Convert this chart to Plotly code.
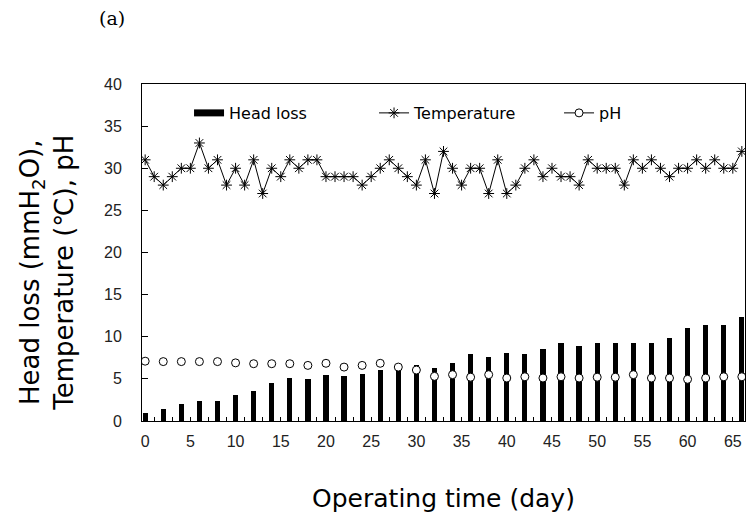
import plotly.graph_objects as go

# Temperature, daily (day 0..66)
temp_days = list(range(0, 67))
temperature = [31, 29, 28, 29, 30, 30, 33, 30, 31, 28, 30, 28, 31, 27, 30, 29, 31, 30, 31, 31,
               29, 29, 29, 29, 28, 29, 30, 31, 30, 29, 28, 31, 27, 32, 30, 28, 30, 30, 27, 31,
               27, 28, 30, 31, 29, 30, 29, 29, 28, 31, 30, 30, 30, 28, 31, 30, 31, 30, 29, 30,
               30, 31, 30, 31, 30, 30, 32]

# Head loss and pH, every 2 days (day 0..66)
sample_days = list(range(0, 67, 2))
head_loss = [0.9, 1.4, 2.0, 2.4, 2.4, 3.1, 3.6, 4.5, 5.1, 5.0, 5.5, 5.4, 5.6, 6.0, 6.0, 6.7,
             6.3, 6.9, 8.0, 7.6, 8.1, 8.0, 8.6, 9.2, 8.9, 9.2, 9.3, 9.2, 9.3, 9.9, 11.0, 11.4,
             11.4, 12.4]
ph = [7.1, 7.05, 7.05, 7.05, 7.05, 6.9, 6.8, 6.8, 6.8, 6.6, 6.85, 6.4, 6.6, 6.85, 6.4, 6.05,
      5.3, 5.5, 5.2, 5.5, 5.1, 5.25, 5.1, 5.25, 5.1, 5.2, 5.2, 5.5, 5.1, 5.1, 4.95, 5.1,
      5.25, 5.25]

x_tick_vals = list(range(0, 66, 5))
y_tick_vals = list(range(0, 41, 5))

fig = go.Figure()

fig.add_trace(go.Bar(
    x=sample_days, y=head_loss, name="Head loss", width=0.58,
    marker=dict(color="black", line=dict(width=0)),
    showlegend=False, legendgroup="hl",
))
# legend key for the bars (wide black rectangle)
fig.add_trace(go.Scatter(
    x=[None], y=[None], mode="lines", name="Head loss",
    line=dict(color="black", width=7), legendgroup="hl",
))
fig.add_trace(go.Scatter(
    x=temp_days, y=temperature, name="Temperature", mode="lines+markers",
    line=dict(color="black", width=1),
    marker=dict(symbol="asterisk-open", size=9, color="black", line=dict(color="black", width=1)),
))
fig.add_trace(go.Scatter(
    x=sample_days, y=ph, name="pH", mode="markers",
    marker=dict(symbol="circle", size=8, color="white", line=dict(color="black", width=1)),
    showlegend=False, legendgroup="ph",
))
# legend key for pH (line with open circle)
fig.add_trace(go.Scatter(
    x=[None], y=[None], mode="lines+markers", name="pH", legendgroup="ph",
    line=dict(color="black", width=1),
    marker=dict(symbol="circle", size=8, color="white", line=dict(color="black", width=1)),
))

font_tick = "Liberation Sans, Arial, sans-serif"
font_text = "DejaVu Sans, Verdana, sans-serif"

fig.update_layout(
    width=748, height=525,
    margin=dict(l=142, r=3, t=84, b=104),
    paper_bgcolor="white", plot_bgcolor="white",
    font=dict(family=font_text, color="black"),
    showlegend=True,
    legend=dict(
        orientation="h", x=0.078, y=0.914, xanchor="left", yanchor="middle",
        bgcolor="rgba(0,0,0,0)", font=dict(size=16, family=font_text),
        entrywidth=140, entrywidthmode="pixels", traceorder="normal",
    ),
    bargap=0,
    xaxis=dict(
        range=[-0.35, 66.35], tickvals=x_tick_vals, ticktext=[str(v) for v in x_tick_vals],
        ticks="inside", ticklen=4, tickcolor="black",
        minor=dict(dtick=1, tick0=0, ticks="inside", ticklen=4, tickcolor="black"),
        showline=True, linecolor="black", linewidth=1, mirror=True,
        showgrid=False, zeroline=False,
        tickfont=dict(size=16, color="#222", family=font_tick), ticklabelstandoff=6,
        title=dict(text="Operating time (day)", font=dict(size=25, family=font_text), standoff=40),
    ),
    yaxis=dict(
        range=[0, 40], tickvals=y_tick_vals,
        ticks="inside", ticklen=6, tickcolor="black",
        showline=True, linecolor="black", linewidth=1, mirror=True,
        showgrid=False, zeroline=False,
        tickfont=dict(size=16, color="#222", family=font_tick), ticklabelstandoff=16,
    ),
    annotations=[
        dict(text="Head loss (mmH<sub>2</sub>O),<br>Temperature (℃), pH",
             xref="paper", yref="paper", x=-0.1575, y=0.44, xanchor="center", yanchor="middle",
             textangle=-90, showarrow=False, font=dict(size=26, family=font_text)),
        dict(text="(a)", xref="paper", yref="paper", x=-0.05, y=1.196,
             xanchor="center", yanchor="middle", showarrow=False,
             font=dict(size=19, family="DejaVu Serif, serif")),
    ],
)

fig.write_html(
    "out.html",
    config={"displayModeBar": False},
    post_script="document.body.style.margin='0';document.body.style.padding='0';",
)
